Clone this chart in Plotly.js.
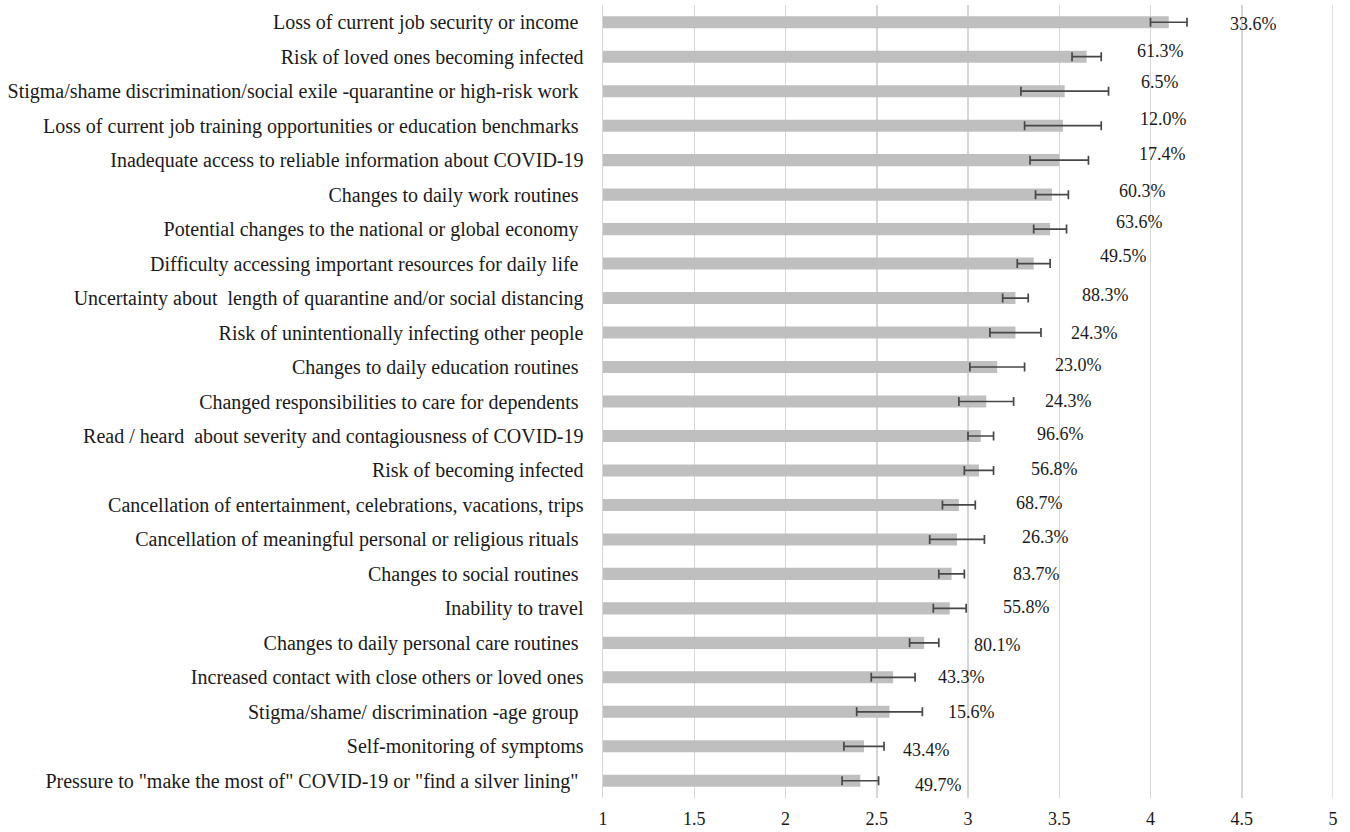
<!DOCTYPE html>
<html>
<head>
<meta charset="utf-8">
<script src="https://cdn.plot.ly/plotly-3.0.1.min.js"></script>
<style>html,body{margin:0;padding:0;background:#fff;}#chart{width:1350px;height:832px;}</style>
</head>
<body>
<div id="chart"></div>
<script>
const categories = [
  "Loss of current job security or income ",
  "Risk of loved ones becoming infected",
  "Stigma/shame discrimination/social exile -quarantine or high-risk work ",
  "Loss of current job training opportunities or education benchmarks ",
  "Inadequate access to reliable information about COVID-19",
  "Changes to daily work routines ",
  "Potential changes to the national or global economy ",
  "Difficulty accessing important resources for daily life ",
  "Uncertainty about  length of quarantine and/or social distancing",
  "Risk of unintentionally infecting other people",
  "Changes to daily education routines ",
  "Changed responsibilities to care for dependents ",
  "Read / heard  about severity and contagiousness of COVID-19",
  "Risk of becoming infected",
  "Cancellation of entertainment, celebrations, vacations, trips",
  "Cancellation of meaningful personal or religious rituals ",
  "Changes to social routines ",
  "Inability to travel",
  "Changes to daily personal care routines ",
  "Increased contact with close others or loved ones",
  "Stigma/shame/ discrimination -age group ",
  "Self-monitoring of symptoms",
  "Pressure to \"make the most of\" COVID-19 or \"find a silver lining\" "
];
const meanScores = [4.10, 3.65, 3.53, 3.52, 3.50, 3.46, 3.45, 3.36, 3.26, 3.26, 3.16, 3.10, 3.07, 3.06, 2.95, 2.94, 2.91, 2.90, 2.76, 2.59, 2.57, 2.43, 2.41];
const errorHalf = [0.10, 0.08, 0.24, 0.21, 0.16, 0.09, 0.09, 0.09, 0.07, 0.14, 0.15, 0.15, 0.07, 0.08, 0.09, 0.15, 0.07, 0.09, 0.08, 0.12, 0.18, 0.11, 0.10];
const percentEndorsed = [33.6, 61.3, 6.5, 12.0, 17.4, 60.3, 63.6, 49.5, 88.3, 24.3, 23.0, 24.3, 96.6, 56.8, 68.7, 26.3, 83.7, 55.8, 80.1, 43.3, 15.6, 43.4, 49.7];
const xTickVals = [1, 1.5, 2, 2.5, 3, 3.5, 4, 4.5, 5];
const xTickText = ["1", "1.5", "2", "2.5", "3", "3.5", "4", "4.5", "5"];

// label placement (pixels, style only)
const labelGap = [41, 34, 30, 37, 49, 49, 47, 48, 52, 28, 28, 29, 41, 35, 39, 36, 47, 35, 33, 21, 24, 17, 34];
const labelRise = [-2, 6, 9, 7, 6, 4, 7, 8, 3, 0, 2, 1, 2, 1, 2, 2, 0, 1, -2, 0, 0, -4, -4];

const FONT = '"Liberation Serif", "Times New Roman", Times, serif';
const GRID = '#d6d6d6';

const trace = {
  type: 'bar',
  orientation: 'h',
  y: categories,
  x: meanScores,
  width: 0.35,
  marker: {color: '#bfbfbf', line: {width: 0}},
  error_x: {type: 'data', array: errorHalf, visible: true, color: '#474747', thickness: 1.7, width: 4.5},
  hoverinfo: 'x+y'
};

const annotations = categories.map((c, i) => ({
  x: meanScores[i] + errorHalf[i], y: c, xref: 'x', yref: 'y',
  text: percentEndorsed[i].toFixed(1) + '%',
  showarrow: false, xanchor: 'left', yanchor: 'middle',
  xshift: labelGap[i], yshift: labelRise[i],
  font: {family: FONT, size: 18, color: '#1a1a1a'}
}));

// white boxes behind the percentage labels (hide gridlines there, as in the source)
const maskStyle = {type: 'rect', xref: 'x', yref: 'paper', fillcolor: '#ffffff', line: {width: 0}, layer: 'between'};
const shapes = [
  Object.assign({}, maskStyle, {x0: 4.30, x1: 4.75, y0: 0.952, y1: 1.0}),
  Object.assign({}, maskStyle, {x0: 3.85, x1: 4.20, y0: 0.612, y1: 0.985}),
  Object.assign({}, maskStyle, {x0: 3.30, x1: 3.75, y0: 0.218, y1: 0.612}),
  Object.assign({}, maskStyle, {x0: 2.80, x1: 3.25, y0: 0.0, y1: 0.218}),
  // gridline at the right edge of the range (Plotly omits edge gridlines)
  {type: 'line', xref: 'x', yref: 'paper', x0: xTickVals[xTickVals.length - 1], x1: xTickVals[xTickVals.length - 1], y0: 0, y1: 1,
   line: {color: GRID, width: 1.5}, layer: 'between'}
];

const layout = {
  width: 1350, height: 832,
  margin: {l: 603, r: 17, t: 5, b: 34},
  paper_bgcolor: '#ffffff', plot_bgcolor: '#ffffff',
  showlegend: false,
  font: {family: FONT, size: 20, color: '#1a1a1a'},
  xaxis: {
    range: [1, 5], tickvals: xTickVals, ticktext: xTickText,
    showgrid: true, gridcolor: GRID, gridwidth: 1.5,
    zeroline: false, showline: false, ticks: '', ticklabelstandoff: 8,
    tickfont: {family: FONT, size: 18, color: '#1a1a1a'},
    fixedrange: true
  },
  yaxis: {
    type: 'category', autorange: 'reversed',
    showgrid: false, zeroline: false,
    showline: true, linecolor: GRID, linewidth: 1.5,
    ticks: '', ticklabelstandoff: 14,
    tickfont: {family: FONT, size: 20, color: '#1a1a1a'},
    fixedrange: true
  },
  annotations: annotations,
  shapes: shapes,
  bargap: 0.65
};

Plotly.newPlot('chart', [trace], layout, {staticPlot: true, displayModeBar: false});
</script>
</body>
</html>
